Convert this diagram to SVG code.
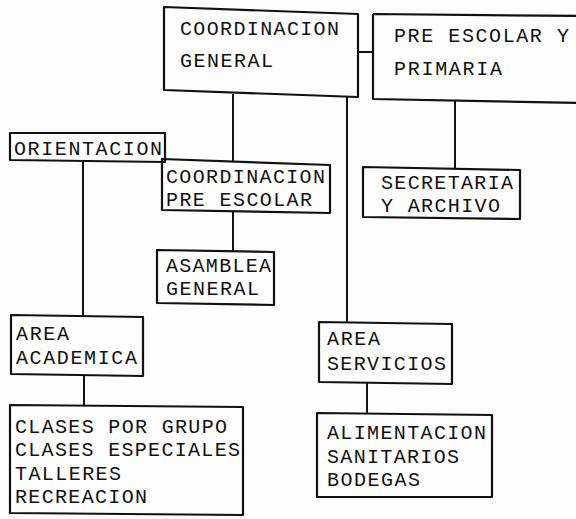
<svg xmlns="http://www.w3.org/2000/svg" width="576" height="519" viewBox="0 0 576 519">
<style>
.box{fill:none;stroke:#111;stroke-width:2.2;stroke-linejoin:round}
.ln{stroke:#111;stroke-width:2;fill:none}
text{font-family:"Liberation Mono","DejaVu Sans Mono",monospace;font-size:20px;fill:#111;lengthAdjust:spacing}
</style>
<rect width="576" height="519" fill="#fdfdfd"/>
<g id="connectors">
<line class="ln" x1="358" y1="52" x2="373" y2="52"/>
<line class="ln" x1="233" y1="94" x2="233" y2="162"/>
<line class="ln" x1="233" y1="212" x2="233" y2="251"/>
<line class="ln" x1="347" y1="97" x2="347" y2="323"/>
<line class="ln" x1="455" y1="101" x2="455" y2="168"/>
<line class="ln" x1="83" y1="161" x2="83" y2="316"/>
<line class="ln" x1="84" y1="375" x2="84" y2="406"/>
<line class="ln" x1="367" y1="383" x2="367" y2="414"/>
</g>
<g id="coordinacion-general">
<path class="box" d="M164 7 L358 14 L358 97 L164 90 Z"/>
<text x="180" y="35" textLength="159" lengthAdjust="spacing">COORDINACION</text>
<text x="180" y="67" textLength="93" lengthAdjust="spacing">GENERAL</text>
</g>
<g id="pre-escolar-primaria">
<path class="box" d="M373 14 L580 16 M373 14 L373 99 L580 103"/>
<text x="394" y="42" textLength="175" lengthAdjust="spacing">PRE ESCOLAR Y</text>
<text x="394" y="75" textLength="108" lengthAdjust="spacing">PRIMARIA</text>
</g>
<g id="orientacion">
<path class="box" d="M10 133 L165 133 L165 162 L10 160 Z"/>
<text x="14" y="155" textLength="148" lengthAdjust="spacing">ORIENTACION</text>
</g>
<g id="coordinacion-pre-escolar">
<path class="box" d="M162 159 L330 165 L330 213 L162 210 Z"/>
<text x="166" y="183" textLength="159" lengthAdjust="spacing">COORDINACION</text>
<text x="166" y="206" textLength="146" lengthAdjust="spacing">PRE ESCOLAR</text>
</g>
<g id="secretaria-archivo">
<path class="box" d="M363 167 L520 170 L520 219 L363 217 Z"/>
<text x="381" y="189" textLength="132" lengthAdjust="spacing">SECRETARIA</text>
<text x="381" y="212" textLength="119" lengthAdjust="spacing">Y ARCHIVO</text>
</g>
<g id="asamblea-general">
<path class="box" d="M157 250 L274 252 L274 305 L157 303 Z"/>
<text x="166" y="272" textLength="105" lengthAdjust="spacing">ASAMBLEA</text>
<text x="166" y="295" textLength="93" lengthAdjust="spacing">GENERAL</text>
</g>
<g id="area-academica">
<path class="box" d="M11 315 L143 317 L143 376 L11 374 Z"/>
<text x="16" y="340" textLength="53" lengthAdjust="spacing">AREA</text>
<text x="16" y="364" textLength="121" lengthAdjust="spacing">ACADEMICA</text>
</g>
<g id="area-servicios">
<path class="box" d="M319 322 L452 324 L452 384 L319 382 Z"/>
<text x="327" y="345" textLength="53" lengthAdjust="spacing">AREA</text>
<text x="327" y="370" textLength="119" lengthAdjust="spacing">SERVICIOS</text>
</g>
<g id="clases">
<path class="box" d="M10 405 L243 407 L243 515 L10 513 Z"/>
<text x="15" y="433" textLength="212" lengthAdjust="spacing">CLASES POR GRUPO</text>
<text x="15" y="456" textLength="225" lengthAdjust="spacing">CLASES ESPECIALES</text>
<text x="15" y="480" textLength="106" lengthAdjust="spacing">TALLERES</text>
<text x="15" y="503" textLength="132" lengthAdjust="spacing">RECREACION</text>
</g>
<g id="alimentacion">
<path class="box" d="M317 413 L492 415 L492 497 L317 497 Z"/>
<text x="327" y="439" textLength="159" lengthAdjust="spacing">ALIMENTACION</text>
<text x="327" y="463" textLength="132" lengthAdjust="spacing">SANITARIOS</text>
<text x="327" y="486" textLength="93" lengthAdjust="spacing">BODEGAS</text>
</g>
</svg>
